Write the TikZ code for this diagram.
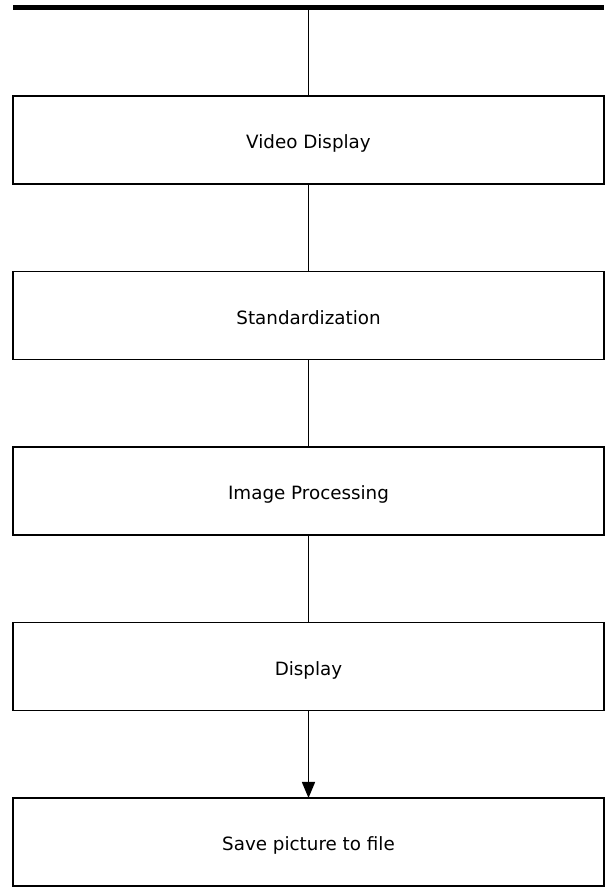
\documentclass[tikz,border=0pt]{standalone}
\usepackage{fontspec}
\setmainfont{DejaVu Sans}
\usepackage{tikz}
\usetikzlibrary{arrows.meta,positioning,calc}

\begin{document}
\begin{tikzpicture}[x=1pt, y=1pt, node distance=87.5pt,
    every node/.style={draw, line width=1.5pt, outer sep=0pt, minimum width=591pt, minimum height=88pt, inner sep=0pt, text height=22.5pt, text depth=4.5pt, align=center, font=\fontsize{18.3}{21}\selectfont}]
		\useasboundingbox (0,0) rectangle (608,888);

		\node (vd) at (308.5,748) {Video Display};
		\node (st) [below=of vd] {Standardization};
		\node (ip) [below=of st] {Image Processing};
		\node (dp) [below=of ip] {Display};
		\node (sv) [below=of dp] {Save picture to file};

		\coordinate (busL) at (13,880);
		\coordinate (busR) at (604,880);
		\coordinate (busM) at (vd.north |- busL);
		\draw[line width=5pt] (busL) -- (busR);

		\draw[line width=1.5pt] (busM) -- (vd.north);
		\draw[line width=1.5pt] (vd) -- (st);
		\draw[line width=1.5pt] (st) -- (ip);
		\draw[line width=1.5pt] (ip) -- (dp);
		\draw[line width=1.5pt, -{Triangle[length=16pt, width=13pt]}] (dp) -- (sv);
	\end{tikzpicture}
\end{document}
